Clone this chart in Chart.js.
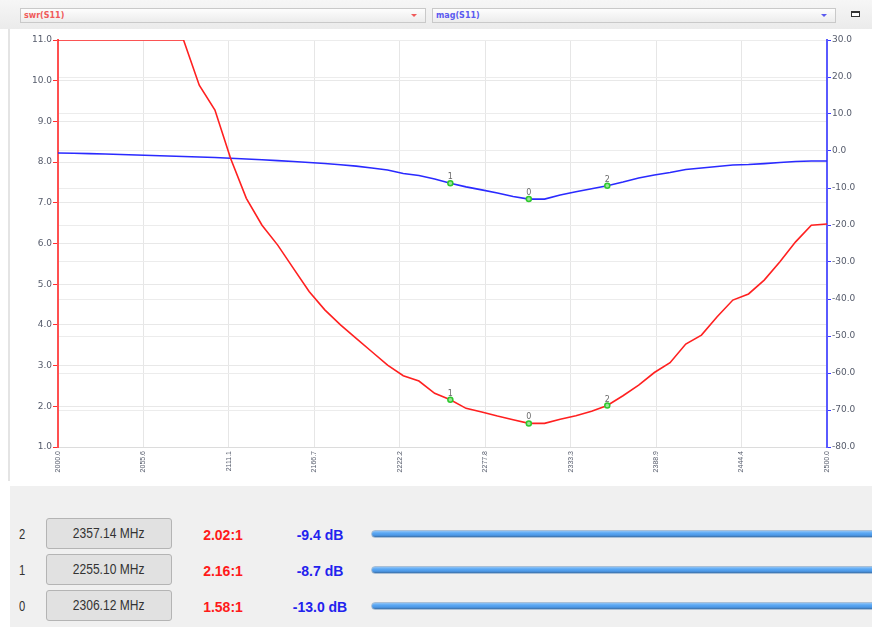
<!DOCTYPE html>
<html>
<head>
<meta charset="utf-8">
<script src="https://cdn.jsdelivr.net/npm/chart.js@4/dist/chart.umd.min.js"></script>
<style>
  html, body { margin: 0; padding: 0; width: 872px; height: 627px; overflow: hidden; background: #fff; }
  #toolbar { position: absolute; left: 0; top: 0; width: 872px; height: 29px; background: linear-gradient(#f6f6f6, #ebebeb); }
  .combo { position: absolute; top: 8px; height: 15px; box-sizing: border-box; border: 1px solid #c9c9c9;
           background: linear-gradient(#fdfdfd, #ececec); font: bold 8px "DejaVu Sans", sans-serif; line-height: 13px; padding-left: 3px; }
  .combo .arrow { position: absolute; right: 8px; top: 5px; width: 0; height: 0; border-left: 3px solid transparent;
                  border-right: 3px solid transparent; }
  #winbtn { position: absolute; left: 851px; top: 11px; width: 9px; height: 6px; border: 1px solid #333; border-top-width: 2px; box-sizing: border-box; background: #fff; }
  #splitter { position: absolute; left: 8px; top: 29px; width: 2px; height: 452px; background: #e4e4e4; }
  #chartBox { position: absolute; left: 0; top: 30px; width: 872px; height: 456px; }
  #panel { position: absolute; left: 10px; top: 486px; width: 862px; height: 141px; background: #f0f0f0; }
  .idx { position: absolute; left: 19px; font: 14px "Liberation Sans", sans-serif; color: #333; transform: scaleX(0.8); transform-origin: left center; }
  .freqBtn { position: absolute; left: 46px; width: 126px; height: 31px; box-sizing: border-box; border: 1px solid #b4b4b4; border-radius: 3px;
             background: #e1e1e1; text-align: center; font: 14px "Liberation Sans", sans-serif; color: #333; line-height: 29px; }
  .freqBtn span { display: inline-block; transform: scaleX(0.86); }
  .swr { position: absolute; left: 183px; width: 80px; text-align: center; font: bold 14px "Liberation Sans", sans-serif; color: #ff1a1a; }
  .db { position: absolute; left: 280px; width: 80px; text-align: center; font: bold 14px "Liberation Sans", sans-serif; color: #2222ee; }
  .slider { position: absolute; left: 371px; width: 510px; height: 8px; border-radius: 4px; box-sizing: border-box; border: 1px solid #a9bfd6;
            background: linear-gradient(#8fc3f5 0%, #5aa8f4 35%, #4d98e6 70%, #3b6fa6 100%); }
</style>
</head>
<body>
<div id="toolbar">
  <div class="combo" style="left:20px;width:406px;color:#f05a5a;">swr(S11)<div class="arrow" style="border-top:3px solid #f05a5a;"></div></div>
  <div class="combo" style="left:432px;width:404px;color:#5a5af0;">mag(S11)<div class="arrow" style="border-top:3px solid #5a5af0;"></div></div>
  <div id="winbtn"></div>
</div>
<div id="splitter"></div>
<div id="chartBox"><canvas id="c" width="872" height="456"></canvas></div>
<div id="panel"></div>
<div id="rows"></div>
<script>
// Sweep frequencies (MHz), 50 points from 2000 to 2500
const freqMHz = [
  2000.00, 2010.20, 2020.41, 2030.61, 2040.82, 2051.02, 2061.22, 2071.43, 2081.63, 2091.84,
  2102.04, 2112.24, 2122.45, 2132.65, 2142.86, 2153.06, 2163.27, 2173.47, 2183.67, 2193.88,
  2204.08, 2214.29, 2224.49, 2234.69, 2244.90, 2255.10, 2265.31, 2275.51, 2285.71, 2295.92,
  2306.12, 2316.33, 2326.53, 2336.73, 2346.94, 2357.14, 2367.35, 2377.55, 2387.76, 2397.96,
  2408.16, 2418.37, 2428.57, 2438.78, 2448.98, 2459.18, 2469.39, 2479.59, 2489.80, 2500.00
];

// VSWR of S11 (clamped at 11 by the analyzer)
const swrValues = [
  11.0, 11.0, 11.0, 11.0, 11.0, 11.0, 11.0, 11.0, 11.0, 9.89,
  9.28, 8.09, 7.11, 6.45, 5.96, 5.39, 4.82, 4.37, 4.00, 3.67,
  3.34, 3.01, 2.75, 2.62, 2.32, 2.16, 1.95, 1.86, 1.76, 1.67,
  1.58, 1.58, 1.68, 1.77, 1.88, 2.02, 2.26, 2.52, 2.83, 3.07,
  3.53, 3.75, 4.20, 4.61, 4.76, 5.10, 5.55, 6.04, 6.45, 6.48
];

// |S11| in dB
const magValues = [
  -0.54, -0.60, -0.70, -0.80, -0.95, -1.08, -1.20, -1.35, -1.50, -1.63,
  -1.76, -1.95, -2.15, -2.35, -2.60, -2.84, -3.10, -3.38, -3.70, -4.10,
  -4.59, -5.14, -6.08, -6.62, -7.57, -8.70, -9.70, -10.50, -11.35, -12.30,
  -13.00, -13.00, -11.90, -11.00, -10.20, -9.40, -8.40, -7.30, -6.50, -5.80,
  -5.00, -4.60, -4.20, -3.80, -3.65, -3.40, -3.10, -2.84, -2.70, -2.70
];

// Markers
const markerNames = ['2', '1', '0'];
const markerFreq = [2357.14, 2255.10, 2306.12];
const markerSwr = [2.02, 2.16, 1.58];
const markerMag = [-9.4, -8.7, -13.0];

// Axis tick labels
const xTickLabels = ['2000.0', '2055.6', '2111.1', '2166.7', '2222.2', '2277.8', '2333.3', '2388.9', '2444.4', '2500.0'];
const swrTicks = [1, 2, 3, 4, 5, 6, 7, 8, 9, 10, 11];
const magTicks = [-80, -70, -60, -50, -40, -30, -20, -10, 0, 10, 20, 30];

// Marker readout rows below the plot
const rows = document.getElementById('rows');
const rowTops = [534, 570, 606];
markerNames.forEach((name, i) => {
  const cy = rowTops[i];
  rows.insertAdjacentHTML('beforeend',
    `<div class="idx" style="top:${cy - 8}px">${name}</div>` +
    `<div class="freqBtn" style="top:${cy - 16}px"><span>${markerFreq[i].toFixed(2)} MHz</span></div>` +
    `<div class="swr" style="top:${cy - 7}px">${markerSwr[i].toFixed(2)}:1</div>` +
    `<div class="db" style="top:${cy - 7}px">${markerMag[i].toFixed(1)} dB</div>` +
    `<div class="slider" style="top:${cy - 4}px"></div>`);
});

const toXY = (ys) => ys.map((y, i) => ({ x: freqMHz[i], y }));
const markerXY = (ys) => ys.map((y, i) => ({ x: markerFreq[i], y }));

// Draws the marker number above each marker point
const markerLabels = {
  id: 'markerLabels',
  afterDatasetsDraw(chart) {
    const ctx = chart.ctx;
    ctx.save();
    ctx.font = '8px "DejaVu Sans", sans-serif';
    ctx.fillStyle = '#6a6a6a';
    ctx.textAlign = 'center';
    ctx.textBaseline = 'bottom';
    chart.data.datasets.forEach((ds, di) => {
      if (!ds.isMarker) return;
      chart.getDatasetMeta(di).data.forEach((pt, j) => {
        ctx.fillText(markerNames[j], pt.x, pt.y - 2);
      });
    });
    ctx.restore();
  }
};

const markerStyle = {
  showLine: false,
  isMarker: true,
  pointRadius: 2.5,
  pointBorderWidth: 1.5,
  pointBorderColor: '#2ec82e',
  pointBackgroundColor: '#9be49b',
  borderColor: '#2ec82e',
};

const tickFont = { family: '"DejaVu Sans", sans-serif', size: 9 };

new Chart(document.getElementById('c'), {
  type: 'line',
  data: {
    datasets: [
      { data: markerXY(markerSwr), yAxisID: 'ySwr', ...markerStyle },
      { data: markerXY(markerMag), yAxisID: 'yMag', ...markerStyle },
      { data: toXY(swrValues), yAxisID: 'ySwr', borderColor: '#ff2020', borderWidth: 1.6, pointRadius: 0, tension: 0 },
      { data: toXY(magValues), yAxisID: 'yMag', borderColor: '#2a2aff', borderWidth: 1.6, pointRadius: 0, tension: 0 },
    ]
  },
  options: {
    responsive: false,
    animation: false,
    layout: { padding: { top: 10, left: 0, right: 0, bottom: 0 } },
    plugins: { legend: { display: false }, tooltip: { enabled: false } },
    scales: {
      x: {
        type: 'linear', min: 2000, max: 2500,
        afterBuildTicks: s => { s.ticks = xTickLabels.map(l => ({ value: parseFloat(l) })); },
        afterFit: s => { s.height = 39; },
        ticks: {
          autoSkip: false, minRotation: 90, maxRotation: 90, padding: 4,
          color: '#555b6b', font: { family: '"Liberation Sans", sans-serif', size: 7 },
          callback: (v, i) => xTickLabels[i]
        },
        grid: { color: '#e6e6e6', drawTicks: false },
        border: { color: '#dcdcdc' }
      },
      ySwr: {
        position: 'left', min: 1, max: 11,
        afterBuildTicks: s => { s.ticks = swrTicks.map(v => ({ value: v })); },
        afterFit: s => { s.width = 58; },
        ticks: { color: '#555b6b', font: tickFont, padding: 1, callback: v => v.toFixed(1) },
        grid: { color: '#e8e8e8', tickColor: '#ff3030', tickLength: 5 },
        border: { color: '#ff5050', width: 2 }
      },
      yMag: {
        position: 'right', min: -80, max: 30,
        afterBuildTicks: s => { s.ticks = magTicks.map(v => ({ value: v })); },
        afterFit: s => { s.width = 45; },
        ticks: { color: '#555b6b', font: tickFont, padding: 1, callback: v => v.toFixed(1) },
        grid: { color: '#ececec', tickColor: '#3a3aff', tickLength: 4 },
        border: { color: '#5a5aff', width: 2 }
      }
    }
  },
  plugins: [markerLabels]
});
</script>
</body>
</html>
